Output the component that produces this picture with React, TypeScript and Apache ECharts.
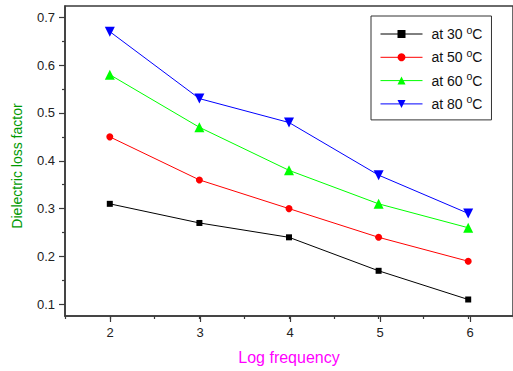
import React, { useEffect, useRef } from "react";
import * as echarts from "echarts";

const logFrequency = [2, 3, 4, 5, 6];
const at30 = [0.31, 0.27, 0.24, 0.17, 0.11];
const at50 = [0.45, 0.36, 0.3, 0.24, 0.19];
const at60 = [0.58, 0.47, 0.38, 0.31, 0.26];
const at80 = [0.67, 0.53, 0.48, 0.37, 0.29];
const seriesNames = ["at 30 °C", "at 50 °C", "at 60 °C", "at 80 °C"];

const FONT = "Liberation Sans, Arial, sans-serif";
const AX = "#3a3a3a";

export default function App() {
  const ref = useRef<HTMLDivElement>(null);
  useEffect(() => {
    if (!ref.current) return;
    const chart = echarts.init(ref.current, null, { renderer: "svg" });
    const pair = (ys: number[]) => logFrequency.map((x, i) => [x, ys[i]]);
    const mk = (name: string, ys: number[], color: string, symbol: string, size: number, rot = 0) => ({
      name,
      type: "line",
      xAxisIndex: 0,
      yAxisIndex: 0,
      data: pair(ys),
      symbol,
      symbolSize: size,
      symbolRotate: rot,
      showSymbol: true,
      lineStyle: { color, width: 1 },
      itemStyle: { color },
      z: 3,
    });
    chart.setOption({
      animation: false,
      textStyle: { fontFamily: FONT },
      grid: [
        { left: 65, top: 6, width: 450, height: 310, show: true, borderColor: AX, borderWidth: 1.5, backgroundColor: "transparent" },
        { left: 65, top: 17.3, width: 450, height: 287 },
        { left: 110, top: 6, width: 360, height: 310 },
      ],
      xAxis: [
        {
          gridIndex: 0, type: "value", min: 1.5, max: 6.5, interval: 0.5,
          axisLine: { show: true, lineStyle: { color: AX, width: 1.5 } },
          axisTick: { show: true, inside: false, length: 3, lineStyle: { color: AX, width: 1.2 } },
          axisLabel: { show: false }, splitLine: { show: false },
          name: "Log frequency", nameLocation: "middle", nameGap: 33,
          nameTextStyle: { color: "#ff00ff", fontSize: 16, fontFamily: FONT },
        },
        { gridIndex: 1, type: "value", min: 1.5, max: 6.5, show: false },
        {
          gridIndex: 2, type: "value", min: 2, max: 6, interval: 1,
          axisLine: { show: false },
          axisTick: { show: true, inside: false, length: 6, lineStyle: { color: AX, width: 1.2 } },
          axisLabel: { show: true, margin: 10, color: "#222", fontSize: 13, fontFamily: FONT },
          splitLine: { show: false },
        },
      ],
      yAxis: [
        {
          gridIndex: 0, type: "value", min: 0.0755, max: 0.7236,
          axisLine: { show: true, lineStyle: { color: AX, width: 1.5 } },
          axisTick: { show: false }, axisLabel: { show: false }, splitLine: { show: false },
        },
        {
          gridIndex: 1, type: "value", min: 0.1, max: 0.7, interval: 0.1,
          axisLine: { show: false },
          axisTick: { show: true, inside: false, length: 6, lineStyle: { color: AX, width: 1.2 } },
          minorTick: { show: true, splitNumber: 2, length: 3, lineStyle: { color: AX, width: 1.2 } },
          axisLabel: { show: true, margin: 10, color: "#222", fontSize: 13, fontFamily: FONT, formatter: (v: number) => v.toFixed(1) },
          splitLine: { show: false }, minorSplitLine: { show: false },
        },
        { gridIndex: 2, type: "value", min: 0, max: 1, show: false },
      ],
      legend: {
        orient: "vertical",
        left: 371,
        top: 16,
        padding: [8, 9, 5, 9],
        borderColor: "#333",
        borderWidth: 1,
        itemWidth: 42,
        itemHeight: 10,
        itemGap: 2.3,
        data: seriesNames,
        lineStyle: { width: 1 },
        formatter: (n: string) => n.replace(" °C", " {sup|o}C"),
        textStyle: {
          color: "#111", fontSize: 14, fontFamily: FONT, lineHeight: 20, padding: [0, 0, 0, 4],
          rich: { sup: { fontSize: 10.5, verticalAlign: "top", lineHeight: 10, padding: [0, 0, 10, 0], fontFamily: FONT, color: "#111" } },
        },
      },
      graphic: [
        {
          type: "text", x: 17, y: 166, rotation: Math.PI / 2,
          style: { text: "Dielectric loss factor", fill: "#009900", fontSize: 14, fontFamily: FONT, textAlign: "center", textVerticalAlign: "middle" },
        },
      ],
      series: [
        mk(seriesNames[0], at30, "#000000", "rect", 6),
        mk(seriesNames[1], at50, "#ff0000", "circle", 7),
        mk(seriesNames[2], at60, "#00ff00", "triangle", 10),
        mk(seriesNames[3], at80, "#0000ff", "triangle", 10, 180),
      ],
    });
    return () => chart.dispose();
  }, []);
  return <div ref={ref} style={{ position: "absolute", left: 0, top: 0, width: 513, height: 371 }} />;
}
